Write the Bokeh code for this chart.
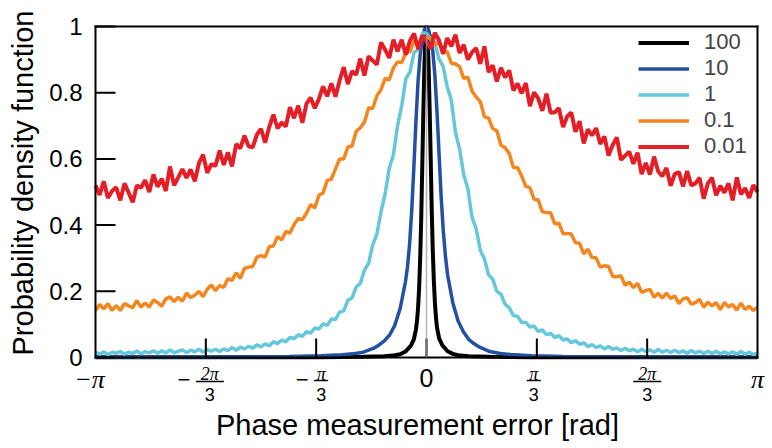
import numpy as np
from bokeh.plotting import figure
from bokeh.models import Range1d
from bokeh.core.properties import value
from bokeh.embed import file_html
from bokeh.resources import INLINE

PI = np.pi

# ---- data ----
phase = np.linspace(-PI, PI, 161)   # histogram bin centres, rad

pdf_001 = [
    .520, .491, .532, .482, .503, .514, .475, .526, .498, .469,
    .520, .513, .536, .500, .553, .516, .540, .503, .577, .520,
    .544, .569, .543, .568, .532, .587, .613, .558, .584, .579,
    .625, .582, .620, .577, .645, .632, .670, .638, .635, .673,
    .691, .649, .697, .734, .692, .710, .698, .756, .723, .761,
    .709, .767, .785, .753, .781, .819, .789, .828, .788, .837,
    .877, .826, .865, .854, .903, .852, .910, .897, .885, .952,
    .930, .905, .960, .925, .960, .915, .957, .979, .931, .973,
    .955,
    .933, .981, .959, .917, .965, .940, .975, .920, .945, .900,
    .922, .935, .887, .940, .862, .883, .834, .875, .846, .867,
    .807, .828, .798, .829, .759, .801, .783, .745, .797, .739,
    .741, .753, .696, .728, .740, .682, .714, .647, .689, .671,
    .693, .645, .668, .610, .642, .665, .597, .610, .622, .585,
    .619, .554, .588, .553, .607, .562, .548, .573, .519, .554,
    .560, .517, .563, .520, .526, .543, .480, .526, .543, .490,
    .519, .498, .526, .475, .544, .493, .512, .482, .521, .500,
]

pdf_01 = [
    .142, .160, .147, .163, .142, .157, .142, .163, .156, .151,
    .172, .152, .165, .152, .174, .166, .155, .177, .183, .169,
    .182, .170, .195, .181, .188, .200, .184, .206, .219, .202,
    .217, .212, .238, .233, .256, .239, .269, .273, .275, .303,
    .308, .303, .335, .337, .365, .355, .381, .376, .402, .420,
    .417, .436, .462, .452, .490, .497, .535, .538, .570, .600,
    .600, .636, .639, .683, .694, .711, .754, .753, .791, .809,
    .843, .839, .875, .893, .891, .920, .924, .956, .949, .967,
    .965,
    .965, .943, .956, .926, .924, .889, .887, .879, .843, .847,
    .805, .787, .773, .728, .723, .692, .685, .641, .634, .616,
    .574, .574, .548, .517, .513, .478, .476, .440, .438, .437,
    .404, .406, .374, .375, .373, .347, .345, .313, .327, .302,
    .301, .273, .277, .275, .245, .244, .247, .218, .228, .211,
    .224, .197, .202, .206, .182, .194, .179, .195, .178, .186,
    .163, .177, .181, .161, .166, .176, .152, .167, .156, .166,
    .145, .166, .153, .160, .143, .164, .145, .155, .142, .152,
]

pdf_1 = [
    .016, .010, .017, .009, .016, .013, .018, .010, .016, .012,
    .020, .011, .018, .014, .020, .013, .020, .014, .023, .014,
    .019, .023, .015, .022, .017, .025, .016, .024, .019, .025,
    .018, .026, .021, .030, .022, .031, .026, .034, .028, .038,
    .032, .041, .035, .048, .042, .053, .047, .061, .057, .069,
    .064, .078, .074, .089, .086, .102, .097, .116, .115, .137,
    .141, .173, .180, .213, .224, .264, .284, .340, .372, .440,
    .494, .572, .612, .700, .760, .842, .862, .922, .930, .980,
    .980,
    .960, .952, .902, .880, .818, .778, .680, .630, .552, .510,
    .424, .389, .324, .298, .250, .237, .200, .191, .161, .151,
    .126, .125, .106, .106, .092, .095, .079, .083, .069, .073,
    .060, .066, .053, .056, .045, .051, .040, .044, .033, .039,
    .030, .035, .026, .033, .025, .029, .021, .028, .020, .025,
    .017, .025, .018, .023, .016, .024, .016, .022, .015, .022,
    .015, .020, .013, .021, .014, .019, .012, .019, .012, .019,
    .011, .017, .011, .017, .010, .018, .010, .016, .009, .014,
]

phase_10 = [-3.14159, -2.7, -2.2, -1.7, -1.3, -1.0, -0.8, -0.7, -0.6, -0.5,
            -0.45, -0.4, -0.35, -0.3, -0.25, -0.2, -0.18, -0.16, -0.14, -0.12,
            -0.1, -0.08, -0.06, -0.04, -0.02, 0.0,
            0.02, 0.04, 0.06, 0.08, 0.1, 0.12, 0.14, 0.16, 0.18, 0.2,
            0.25, 0.3, 0.35, 0.4, 0.45, 0.5, 0.6, 0.7, 0.8, 1.0,
            1.3, 1.7, 2.2, 2.7, 3.14159]
pdf_10 = [.001, .001, .0015, .002, .003, .005, .008, .011, .016, .028,
          .038, .05, .068, .098, .148, .228, .275, .345, .445, .575,
          .715, .835, .915, .96, .99, 1.0,
          .99, .965, .925, .85, .74, .61, .48, .38, .305, .25,
          .165, .11, .078, .055, .042, .032, .018, .012, .009, .005,
          .003, .002, .0015, .001, .001]

phase_100 = [-3.14159, -2.0, -1.0, -0.6, -0.4, -0.3, -0.25, -0.2, -0.15, -0.12,
             -0.1, -0.09, -0.08, -0.07, -0.06, -0.05, -0.04, -0.03, -0.02, -0.01,
             0.0,
             0.01, 0.02, 0.03, 0.04, 0.05, 0.06, 0.07, 0.08, 0.09, 0.1,
             0.12, 0.15, 0.2, 0.25, 0.3, 0.4, 0.6, 1.0, 2.0, 3.14159]
pdf_100 = [.0005, .0007, .001, .002, .004, .007, .01, .018, .035, .055,
           .085, .11, .15, .21, .30, .42, .58, .74, .88, .97,
           1.0,
           .97, .88, .75, .60, .44, .32, .23, .165, .12, .09,
           .058, .037, .019, .011, .007, .004, .002, .001, .0007, .0005]

series_labels = ["100", "10", "1", "0.1", "0.01"]
series_colors = ["#000000", "#2350a2", "#66c6da", "#f3861f", "#e41e26"]
series_widths = [4.0, 3.5, 3.5, 3.5, 4.0]

x_ticks = [-2 * PI / 3, -PI / 3, 0.0, PI / 3, 2 * PI / 3]
y_ticks = [0, 0.2, 0.4, 0.6, 0.8, 1.0]
y_tick_labels = ["0", "0.2", "0.4", "0.6", "0.8", "1"]
x_title = "Phase measurement error [rad]"
y_title = "Probability density function"

FONT = "Liberation Sans"
SERIF = "Liberation Serif"

# ---- layout (screen pixels); the plot area spans x 95..757, y 26..357 ----
W, H = 772, 448
LEFT, RIGHT, TOP, BOTTOM = 95, 15, 26, 91
PLOT_W, PLOT_H = W - LEFT - RIGHT, H - TOP - BOTTOM     # 662, 331
PX = 2 * PI / PLOT_W          # x data units per pixel
PY = 1.0 / PLOT_H             # y data units per pixel
X0 = (LEFT + PLOT_W / 2)      # pixel column of phase 0


def sx(px):       # screen column -> phase coordinate
    return (px - X0) * PX


def sy(py):       # screen row -> y coordinate
    return (TOP + PLOT_H - py) * PY


p = figure(width=W, height=H, output_backend="svg", toolbar_location=None,
           x_range=Range1d(-PI - LEFT * PX, PI + RIGHT * PX),
           y_range=Range1d(-BOTTOM * PY, 1 + TOP * PY),
           x_axis_location=None, y_axis_location=None,
           min_border=0, min_border_left=0, min_border_right=0,
           min_border_top=0, min_border_bottom=0)
p.grid.visible = False
p.outline_line_color = None
p.background_fill_color = "white"
p.border_fill_color = "white"

# ---- data curves ----
xs = [phase_100, phase_10, phase, phase, phase]
ys = [pdf_100, pdf_10, pdf_1, pdf_01, pdf_001]
for x, y, lab, col, w in zip(xs, ys, series_labels, series_colors, series_widths):
    p.line(x, y, line_color=col, line_width=w, legend_label=lab)

# ---- frame, axes and inward ticks ----
p.segment(x0=[-PI, -PI, -PI, PI], y0=[0, 0, 1, 0], x1=[PI, -PI, PI, PI], y1=[0, 1, 1, 1],
          line_color="black", line_width=2, line_cap="square")
p.segment(x0=x_ticks, y0=[0] * len(x_ticks), x1=x_ticks,
          y1=[19 * PY] * len(x_ticks), line_color="black", line_width=2)
p.segment(x0=[-PI] * len(y_ticks), y0=y_ticks, x1=[-PI + 20 * PX] * len(y_ticks),
          y1=y_ticks, line_color="black", line_width=2)
# thin grey line at zero error
p.segment(x0=[0], y0=[0], x1=[0], y1=[1], line_color="#9a9a9a",
          line_width=1.5, line_alpha=0.75)

# ---- y tick labels and title ----
p.text(x=[-PI] * len(y_ticks), y=y_ticks, text=y_tick_labels, x_offset=-13,
       text_font=value(FONT), text_font_size="24px", text_align="right",
       text_baseline="middle", text_color="black")
p.text(x=[sx(22)], y=[sy(182.5)], text=[y_title], angle=PI / 2,
       text_font=value(FONT), text_font_size="29px", text_align="center",
       text_baseline="middle", text_color="black")


def txt(x, y, s, size, font=FONT, style="normal", dx=0):
    p.text(x=[x], y=[y], text=[s], text_font=value(font), text_font_size=size,
           text_font_style=style, text_align="center", text_baseline="middle",
           x_offset=dx, text_color="black")


# ---- x tick labels (multiples of pi) and title ----
txt(-PI, sy(378.5), "\u2212\u03c0", "26px", SERIF, "italic", dx=-6)
txt(PI, sy(378.5), "\u03c0", "26px", SERIF, "italic", dx=0)
txt(0.0, sy(377.5), "0", "25px")

fracs = [(-2 * PI / 3, "2\u03c0", True, 4, 14, 381),
         (-PI / 3, "\u03c0", True, 5, 7, 380),
         (PI / 3, "\u03c0", False, -3, 7, 380),
         (2 * PI / 3, "2\u03c0", False, 0, 14, 381)]
for t, num, neg, cdx, half, ybar in fracs:
    txt(t, sy(373.5), num, "18px", SERIF, "italic", dx=cdx)
    txt(t, sy(393.5), "3", "18px", dx=cdx)
    p.segment(x0=[t + (cdx - half) * PX], y0=[sy(ybar)], x1=[t + (cdx + half) * PX],
              y1=[sy(ybar)], line_color="black", line_width=1.5)
    if neg:
        txt(t, sy(379), "\u2212", "22px", dx=cdx - half - 12)

txt(sx(417), sy(424), x_title, "29px")

# ---- legend ----
lg = p.legend[0]
lg.location = (638, 289)
lg.padding = 0
lg.spacing = 0
lg.border_line_color = None
lg.background_fill_alpha = 0
lg.label_text_font = FONT
lg.label_text_font_size = "22px"
lg.label_height = 25
lg.glyph_height = 25
lg.glyph_width = 51
lg.label_standoff = 15

open("out.html", "w").write(file_html(p, INLINE))
